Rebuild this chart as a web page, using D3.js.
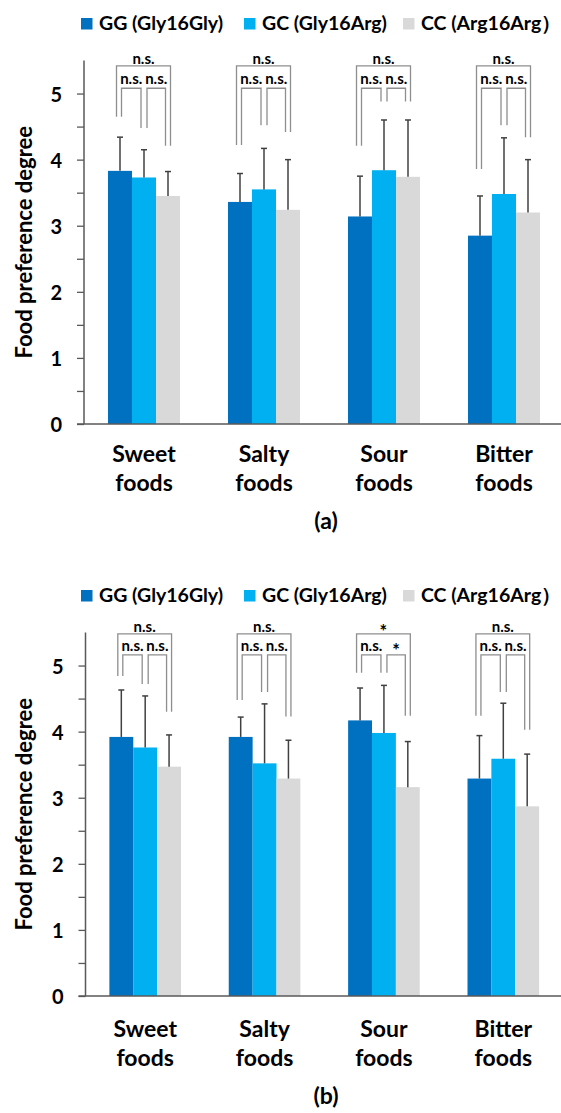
<!DOCTYPE html>
<html>
<head>
<meta charset="utf-8">
<script src="https://cdn.jsdelivr.net/npm/d3@7"></script>
<style>
  html, body { margin: 0; padding: 0; background: #fff; }
  svg { display: block; }
  text { font-family: Lato, "Noto Sans", sans-serif; font-weight: bold; fill: #000; }
</style>
</head>
<body>
<svg id="chart" width="561" height="1113"></svg>
<script>
// Food preference by ADRB2 Arg16Gly genotype, two panels (a) and (b)
const categories = ["Sweet foods", "Salty foods", "Sour foods", "Bitter foods"];
const genotypes = ["GG (Gly16Gly)", "GC (Gly16Arg)", "CC (Arg16Arg）"];
const colors = ["#0070C0", "#00B0F0", "#D9D9D9"];
const yTicks = [0, 1, 2, 3, 4, 5];

// Panel (a): means and SD per genotype (GG, GC, CC), per food category
const meanA_GG = [3.83, 3.36, 3.14, 2.85];
const meanA_GC = [3.73, 3.55, 3.84, 3.48];
const meanA_CC = [3.45, 3.24, 3.74, 3.20];
const sdA_GG = [0.51, 0.43, 0.61, 0.60];
const sdA_GC = [0.42, 0.62, 0.76, 0.85];
const sdA_CC = [0.37, 0.76, 0.86, 0.80];

// Panel (b)
const meanB_GG = [3.92, 3.92, 4.17, 3.29];
const meanB_GC = [3.76, 3.52, 3.98, 3.59];
const meanB_CC = [3.47, 3.29, 3.16, 2.87];
const sdB_GG = [0.71, 0.30, 0.49, 0.65];
const sdB_GC = [0.78, 0.90, 0.72, 0.84];
const sdB_CC = [0.48, 0.58, 0.69, 0.79];

// Significance labels per category: [GG vs CC, GG vs GC, GC vs CC]
const sigA = [["n.s.", "n.s.", "n.s."], ["n.s.", "n.s.", "n.s."], ["n.s.", "n.s.", "n.s."], ["n.s.", "n.s.", "n.s."]];
const sigB = [["n.s.", "n.s.", "n.s."], ["n.s.", "n.s.", "n.s."], ["*", "n.s.", "*"], ["n.s.", "n.s.", "n.s."]];

// Lower end of the bracket legs above each bar (GG, GC, CC), in score units
const legA = [[4.65, 4.48, 4.21], [4.22, 4.52, 4.42], [4.21, 4.88, 4.88], [3.86, 4.52, 4.34]];
const legB = [[4.84, 4.72, 4.30], [4.48, 4.60, 4.23], [4.89, 4.89, 4.24], [4.24, 4.60, 4.03]];

// Bracket heights: [outer, inner]
const bracketA = [5.42, 5.08];
const bracketB = [5.48, 5.16];

const panels = [
  { tag: "(a)", dy: 0, x0: 84, x1: 564, labelShift: 0,
    means: [meanA_GG, meanA_GC, meanA_CC], sds: [sdA_GG, sdA_GC, sdA_CC],
    sig: sigA, legs: legA, brackets: bracketA },
  { tag: "(b)", dy: 572, x0: 85.5, x1: 563, labelShift: 3,
    means: [meanB_GG, meanB_GC, meanB_CC], sds: [sdB_GG, sdB_GC, sdB_CC],
    sig: sigB, legs: legB, brackets: bracketB }
];

const svg = d3.select("#chart");
const axisColor = "#595959";
const errColor = "#404040";
const bracketColor = "#8e8e8e";

panels.forEach(p => {
  const g = svg.append("g").attr("transform", `translate(0,${p.dy})`);

  const x = d3.scaleBand().domain(categories).range([p.x0, p.x1])
    .paddingInner(0.4).paddingOuter(0.2);
  const xs = d3.scaleBand().domain(d3.range(genotypes.length)).range([0, x.bandwidth()]);
  const y = d3.scaleLinear().domain([0, 5.5]).range([424, 60.5]);

  // Legend
  const legendX = [81, 244, 403];
  const leg = g.append("g");
  genotypes.forEach((name, i) => {
    leg.append("rect").attr("x", legendX[i]).attr("y", 18).attr("width", 11.5).attr("height", 11.5)
      .attr("fill", colors[i]);
    leg.append("text").attr("x", legendX[i] + 18).attr("y", 29.5)
      .attr("font-size", 19.5).text(name);
  });

  // Bars
  genotypes.forEach((name, gi) => {
    g.append("g").selectAll("rect").data(categories).join("rect")
      .attr("x", (c) => x(c) + xs(gi))
      .attr("y", (c, ci) => y(p.means[gi][ci]))
      .attr("width", xs.bandwidth())
      .attr("height", (c, ci) => y(0) - y(p.means[gi][ci]))
      .attr("fill", colors[gi]);
  });

  // Error bars (upper only)
  genotypes.forEach((name, gi) => {
    categories.forEach((c, ci) => {
      const cx = x(c) + xs(gi) + xs.bandwidth() / 2;
      const top = y(p.means[gi][ci] + p.sds[gi][ci]);
      g.append("line").attr("x1", cx).attr("x2", cx)
        .attr("y1", y(p.means[gi][ci])).attr("y2", top)
        .attr("stroke", errColor).attr("stroke-width", 1.5);
      g.append("line").attr("x1", cx - 3).attr("x2", cx + 3)
        .attr("y1", top).attr("y2", top)
        .attr("stroke", errColor).attr("stroke-width", 1.5);
    });
  });

  // Significance brackets
  categories.forEach((c, ci) => {
    const cen = d3.range(3).map(gi => x(c) + xs(gi) + xs.bandwidth() / 2);
    const leg = p.legs[ci].map(v => y(v));
    const yOuter = y(p.brackets[0]);
    const yInner = y(p.brackets[1]);
    const sets = [
      { xl: cen[0] - 3.5, xr: cen[2] + 2.5, yl: leg[0], yr: leg[2], top: yOuter, label: p.sig[ci][0], gap: 2 },
      { xl: cen[0] + 1.5, xr: cen[1] - 3, yl: leg[0], yr: leg[1], top: yInner, label: p.sig[ci][1], gap: 4 },
      { xl: cen[1] + 3, xr: cen[2] - 2.5, yl: leg[1], yr: leg[2], top: yInner, label: p.sig[ci][2], gap: 4 }
    ];
    sets.forEach(s => {
      g.append("path")
        .attr("d", `M${s.xl},${s.yl}V${s.top}H${s.xr}V${s.yr}`)
        .attr("fill", "none").attr("stroke", bracketColor).attr("stroke-width", 1.3);
      const star = s.label === "*";
      g.append("text").attr("x", (s.xl + s.xr) / 2).attr("y", s.top - s.gap + (star ? 6 : 0))
        .attr("text-anchor", "middle").attr("font-size", star ? 18 : 15).text(s.label);
    });
  });

  // Y axis with half-unit tick marks
  const yAxis = d3.axisLeft(y).tickValues(d3.range(0, 5.01, 0.5)).tickSize(7)
    .tickFormat(d => yTicks.includes(d) ? d3.format("d")(d) : "").tickPadding(15);
  const ya = g.append("g").attr("transform", `translate(${p.x0},0)`).call(yAxis);
  ya.select(".domain").attr("d", `M-0,${y(5.5)}H0V${y(0)}`).attr("stroke", axisColor).attr("stroke-width", 1.5);
  ya.selectAll(".tick line").attr("stroke", axisColor).attr("stroke-width", 1.3);
  ya.selectAll(".tick text").attr("font-size", 20).attr("font-family", "Lato, sans-serif")
    .attr("font-weight", "bold").attr("fill", "#000").attr("dy", "0.38em");

  // X axis baseline
  g.append("line").attr("x1", p.x0 - 7).attr("x2", 561).attr("y1", y(0)).attr("y2", y(0))
    .attr("stroke", axisColor).attr("stroke-width", 1.5);

  // Category labels (two lines)
  categories.forEach(c => {
    const t = g.append("text").attr("text-anchor", "middle").attr("font-size", 23);
    c.split(" ").forEach((w, i) => {
      t.append("tspan").attr("x", x(c) + x.bandwidth() / 2)
        .attr("y", 462 + p.labelShift + i * 28.5).text(w);
    });
  });

  // Y axis title
  g.append("text").attr("transform", `translate(32,${(y(0) + y(5.5)) / 2}) rotate(-90)`)
    .attr("text-anchor", "middle").attr("font-size", 22).text("Food preference degree");

  // Panel tag
  g.append("text").attr("x", 326).attr("y", 529 + p.labelShift).attr("text-anchor", "middle")
    .attr("font-size", 23).text(p.tag);
});
</script>
</body>
</html>
